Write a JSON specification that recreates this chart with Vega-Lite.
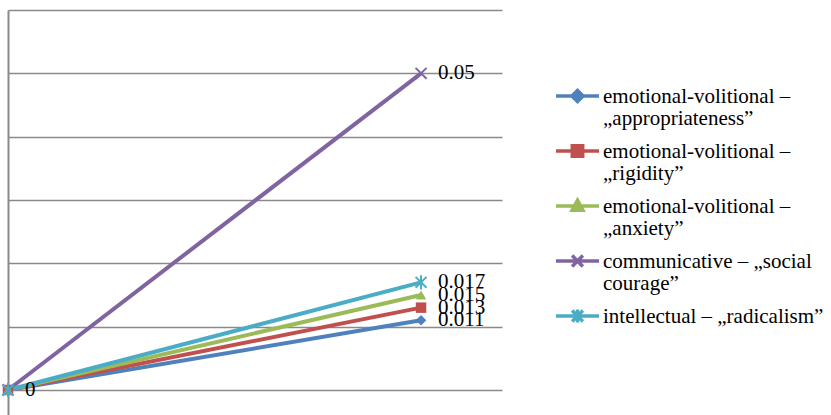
{
  "$schema": "https://vega.github.io/schema/vega-lite/v6.json",
  "autosize": {"type": "none"},
  "width": 494,
  "height": 405,
  "padding": {"left": 8, "top": 10, "right": 329, "bottom": 0},
  "background": "white",
  "config": {"view": {"stroke": null}, "font": "Liberation Serif"},
  "data": {"values": [
    {"series": "emotional-volitional – „appropriateness”", "x": 0, "value": 0},
    {"series": "emotional-volitional – „appropriateness”", "x": 1, "value": 0.011},
    {"series": "emotional-volitional – „rigidity”", "x": 0, "value": 0},
    {"series": "emotional-volitional – „rigidity”", "x": 1, "value": 0.013},
    {"series": "emotional-volitional – „anxiety”", "x": 0, "value": 0},
    {"series": "emotional-volitional – „anxiety”", "x": 1, "value": 0.015},
    {"series": "communicative – „social courage”", "x": 0, "value": 0},
    {"series": "communicative – „social courage”", "x": 1, "value": 0.05},
    {"series": "intellectual – „radicalism”", "x": 0, "value": 0},
    {"series": "intellectual – „radicalism”", "x": 1, "value": 0.017}
  ]},
  "encoding": {
    "x": {"field": "x", "type": "quantitative", "scale": {"domain": [0, 1.196]}, "axis": null},
    "y": {"field": "value", "type": "quantitative", "scale": {"domain": [-0.00395, 0.06], "nice": false, "zero": false},
      "axis": {"title": null, "labels": false, "ticks": false, "values": [0, 0.01, 0.02, 0.03, 0.04, 0.05, 0.06],
        "grid": true, "gridColor": "#8a8a8a", "gridWidth": 1.5, "gridOpacity": 1,
        "domain": true, "domainColor": "#8a8a8a", "domainWidth": 2}}
  },
  "layer": [
    {
      "mark": {"type": "line", "strokeWidth": 4},
      "encoding": {
        "color": {"field": "series", "type": "nominal",
          "scale": {"domain": ["emotional-volitional – „appropriateness”", "emotional-volitional – „rigidity”", "emotional-volitional – „anxiety”", "communicative – „social courage”", "intellectual – „radicalism”"],
            "range": ["#4F81BD", "#C0504D", "#9BBB59", "#8064A2", "#4BACC6"]},
          "legend": {
            "title": null, "orient": "none", "legendX": 547.5, "legendY": 64, "padding": 0,
            "symbolSize": 1600, "symbolStrokeWidth": 4, "labelOffset": 3.5, "labelLimit": 300,
            "labelFont": "Liberation Serif", "labelFontSize": 21, "labelColor": "#000000", "rowPadding": 0,
            "labelBaseline": "alphabetic",
            "labelExpr": "test(/^emotional/, datum.label) ? ['emotional-volitional –', substring(datum.label, 23)] : test(/^communicative/, datum.label) ? ['communicative – „social', 'courage”'] : datum.label",
            "encode": {
              "labels": {"update": {"dy": {"value": 7}, "lineHeight": {"value": 21.5}}},
              "symbols": {"update": {
                "shape": {"signal": "['M-1.075,0H1.075M0,-0.28L0.28,0L0,0.28L-0.28,0Z','M-1.075,0H1.075M-0.26,-0.26H0.26V0.26H-0.26Z','M-1.075,0H1.075M0,-0.29L0.27,0.215H-0.27Z','M-1.075,0H1.075M-0.27,-0.27L0.27,0.27M-0.27,0.27L0.27,-0.27','M-1.075,0H1.075M-0.27,-0.27L0.27,0.27M-0.27,0.27L0.27,-0.27M0,-0.32V0.32'][indexof(['emotional-volitional – „appropriateness”','emotional-volitional – „rigidity”','emotional-volitional – „anxiety”','communicative – „social courage”','intellectual – „radicalism”'], datum.value)]"},
                "fill": {"signal": "scale('color', datum.value)"},
                "stroke": {"signal": "scale('color', datum.value)"},
                "strokeWidth": {"value": 3.5},
                "opacity": {"value": 1}
              }}
            }
          }
        }
      }
    },
    {
      "transform": [{"filter": "datum.series == 'emotional-volitional – „appropriateness”'"}],
      "mark": {"type": "point", "shape": "diamond", "filled": true, "size": 110, "color": "#4F81BD", "opacity": 1}
    },
    {
      "transform": [{"filter": "datum.series == 'emotional-volitional – „rigidity”'"}],
      "mark": {"type": "point", "shape": "square", "filled": true, "size": 110, "color": "#C0504D", "opacity": 1}
    },
    {
      "transform": [{"filter": "datum.series == 'emotional-volitional – „anxiety”'"}],
      "mark": {"type": "point", "shape": "triangle-up", "filled": true, "size": 110, "color": "#9BBB59", "opacity": 1}
    },
    {
      "transform": [{"filter": "datum.series == 'communicative – „social courage”'"}],
      "mark": {"type": "point", "shape": "M-1,-1L1,1M-1,1L1,-1", "filled": false, "size": 120, "strokeWidth": 2, "color": "#8064A2", "opacity": 1}
    },
    {
      "transform": [{"filter": "datum.series == 'intellectual – „radicalism”'"}],
      "mark": {"type": "point", "shape": "M-1,-1L1,1M-1,1L1,-1M0,-1.3V1.3", "filled": false, "size": 120, "strokeWidth": 2, "color": "#4BACC6", "opacity": 1}
    },
    {
      "transform": [{"filter": "datum.x == 1 || datum.series == 'emotional-volitional – „appropriateness”'"}],
      "mark": {"type": "text", "align": "left", "baseline": "middle", "dx": 17, "font": "Liberation Serif", "fontSize": 21, "color": "#000000"},
      "encoding": {
        "text": {"field": "value", "type": "quantitative", "format": ".3~f"}
      }
    }
  ]
}
